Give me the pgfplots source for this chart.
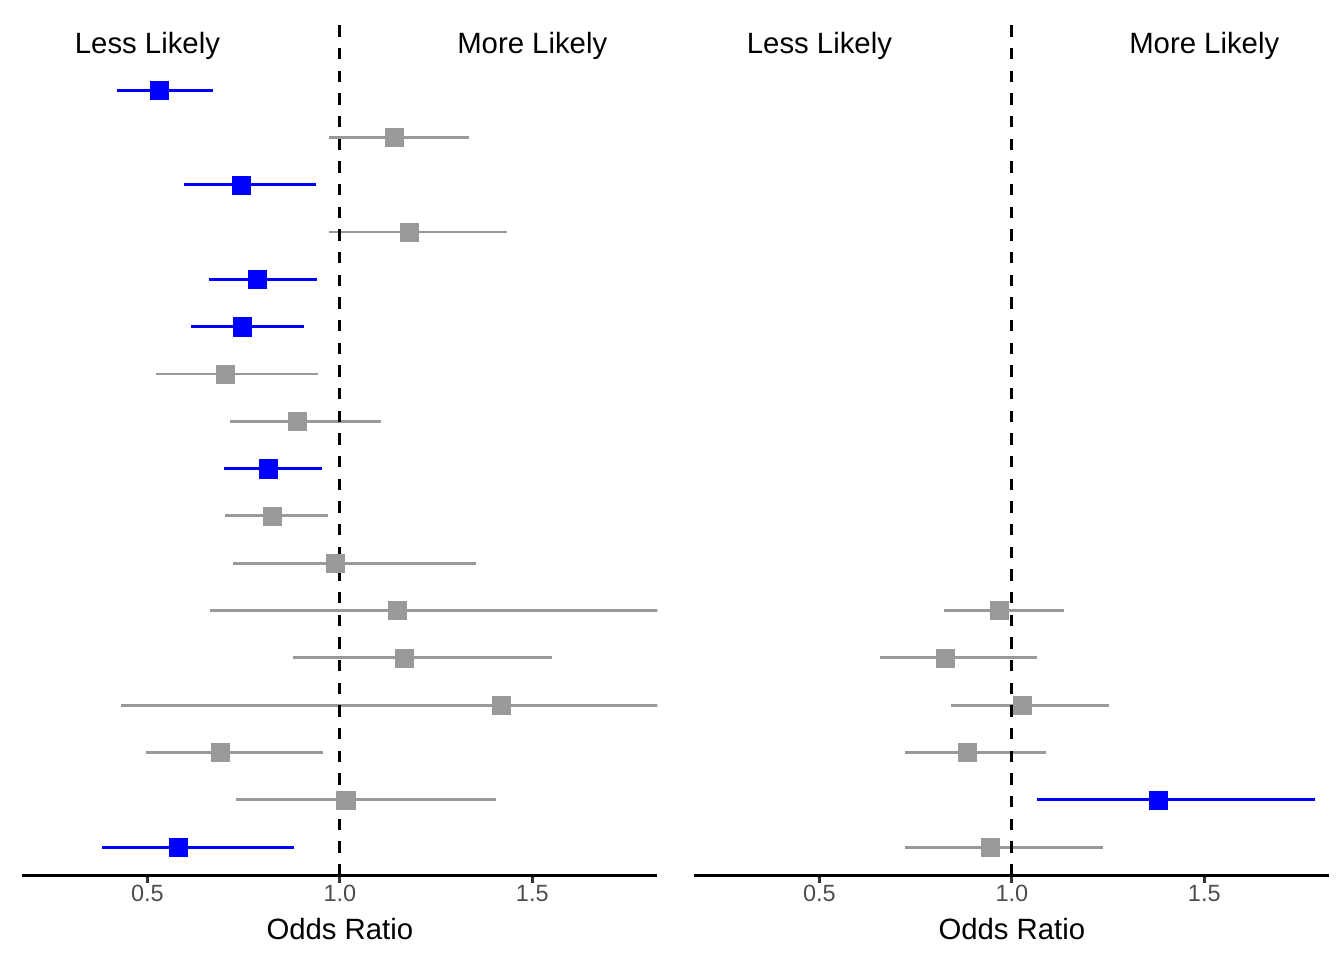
\documentclass[border=0pt]{standalone}
\usepackage{fontspec}
\setmainfont{Liberation Sans}
\usepackage{pgfplots}
\usepackage{pgfplotstable}
\pgfplotsset{compat=1.18}
\definecolor{cblue}{RGB}{0,0,255}
\definecolor{cgray}{RGB}{153,153,153}
\definecolor{tickgray}{RGB}{77,77,77}
\definecolor{tickdark}{RGB}{51,51,51}

\pgfplotstableread{
y est lo hi
17 0.531 0.422 0.671
15 0.744 0.594 0.937
13 0.786 0.659 0.940
12 0.746 0.614 0.907
9 0.813 0.699 0.953
1 0.580 0.383 0.882
}\leftblue
\pgfplotstableread{
y est lo hi
16 1.140 0.972 1.336
14 1.181 0.972 1.434
11 0.701 0.523 0.942
10 0.889 0.715 1.106
8 0.824 0.701 0.968
7 0.988 0.721 1.354
6 1.148 0.663 2.050
5 1.167 0.878 1.552
4 1.419 0.432 2.300
3 0.688 0.496 0.957
2 1.015 0.731 1.407
}\leftgray
\pgfplotstableread{
y est lo hi
6 0.968 0.824 1.136
5 0.826 0.657 1.066
4 1.027 0.841 1.253
3 0.883 0.723 1.088
1 0.944 0.722 1.237
}\rightgray
\pgfplotstableread{
y est lo hi
2 1.380 1.066 1.787
}\rightblue

\tikzset{ann/.style={anchor=base, yshift=-4bp, font=\fontsize{11bp}{13bp}\selectfont}}
\pgfplotsset{
  forest/.style={
    scale only axis, width=238.1bp, height=322.9bp,
    xmin=0.175, xmax=1.825, ymin=0.4, ymax=18.6,
    axis x line=bottom, axis y line=none,
    x axis line style={-, line width=1.07bp, black},
    xtick={0.5,1,1.5}, xticklabels={0.5,1.0,1.5},
    tick align=outside, major tick length=2.75bp,
    every tick/.style={line width=1.07bp, tickdark},
    ytick=\empty,
    xticklabel style={font=\fontsize{8.8bp}{10bp}\selectfont, text=tickgray, inner sep=0pt, anchor=north, yshift=-0.8bp},
    xlabel={Odds Ratio},
    xlabel style={font=\fontsize{11bp}{13bp}\selectfont, at={(axis description cs:0.5,0)}, anchor=base, yshift=-24bp},
    clip=true,
  },
  ci/.style={color=#1, only marks, mark=square*, mark size=3.4bp,
    mark options={draw=#1, fill=#1, line width=0.1bp, solid},
    error bars/.cd, x dir=both, x explicit, error mark=none,
    error bar style={line width=1.07bp, #1}},
}

\begin{document}
\begin{tikzpicture}
\path[use as bounding box] (0,0) rectangle (504bp,360bp);
\begin{axis}[forest, at={(8.4bp,31.7bp)}, anchor=south west]
\addplot[ci=cgray] table[x=est, y=y, x error plus expr=\thisrow{hi}-\thisrow{est}, x error minus expr=\thisrow{est}-\thisrow{lo}] {\leftgray};
\addplot[ci=cblue] table[x=est, y=y, x error plus expr=\thisrow{hi}-\thisrow{est}, x error minus expr=\thisrow{est}-\thisrow{lo}] {\leftblue};
\addplot[black, line width=1.07bp, dash pattern=on 4.25bp off 4.25bp] coordinates {(1,0.4) (1,18.6)};
\node[ann] at (axis cs:0.5,18) {Less Likely};
\node[ann] at (axis cs:1.5,18) {More Likely};
\end{axis}
\begin{axis}[forest, at={(260.4bp,31.7bp)}, anchor=south west]
\addplot[ci=cgray] table[x=est, y=y, x error plus expr=\thisrow{hi}-\thisrow{est}, x error minus expr=\thisrow{est}-\thisrow{lo}] {\rightgray};
\addplot[ci=cblue] table[x=est, y=y, x error plus expr=\thisrow{hi}-\thisrow{est}, x error minus expr=\thisrow{est}-\thisrow{lo}] {\rightblue};
\addplot[black, line width=1.07bp, dash pattern=on 4.25bp off 4.25bp] coordinates {(1,0.4) (1,18.6)};
\node[ann] at (axis cs:0.5,18) {Less Likely};
\node[ann] at (axis cs:1.5,18) {More Likely};
\end{axis}
\end{tikzpicture}
\end{document}
